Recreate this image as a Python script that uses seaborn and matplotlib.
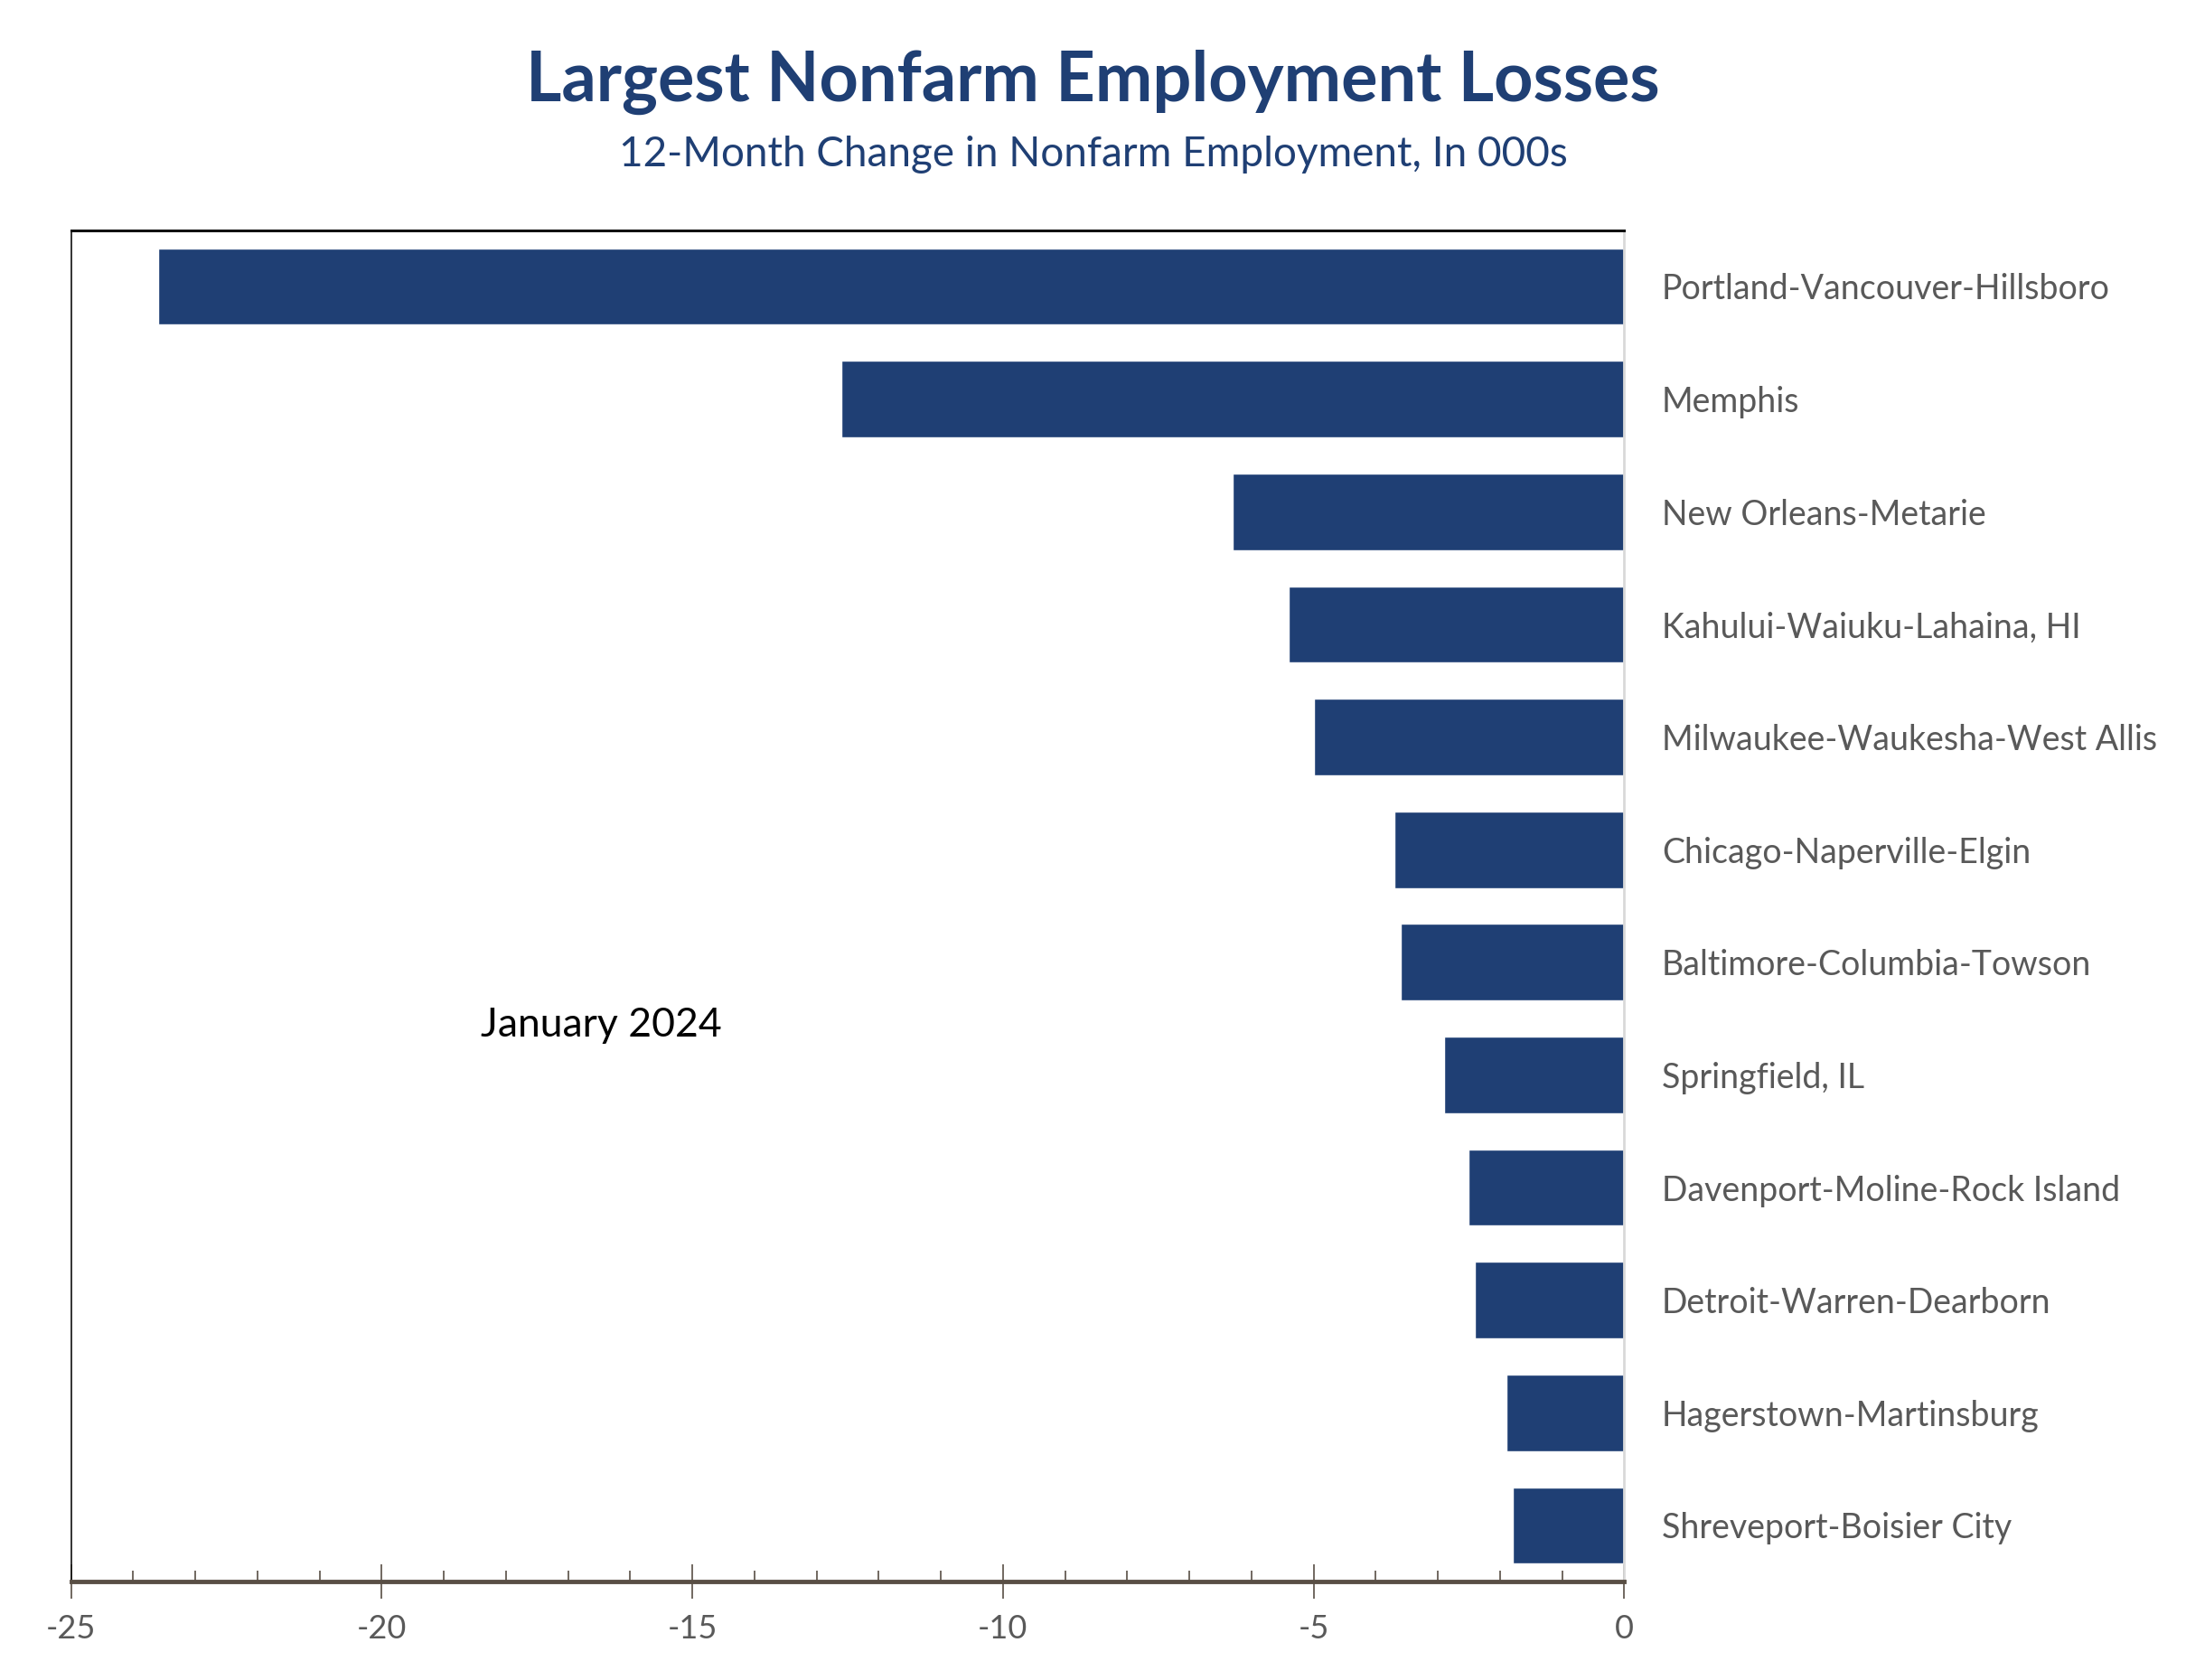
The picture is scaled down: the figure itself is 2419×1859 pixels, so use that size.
import numpy as np
import pandas as pd
import matplotlib
matplotlib.use('Agg')
import matplotlib.pyplot as plt
from matplotlib.ticker import MultipleLocator
import seaborn as sns

# data (thousands of jobs, 12-month change)
metros = ['Portland-Vancouver-Hillsboro', 'Memphis', 'New Orleans-Metarie',
          'Kahului-Waiuku-Lahaina, HI', 'Milwaukee-Waukesha-West Allis',
          'Chicago-Naperville-Elgin', 'Baltimore-Columbia-Towson', 'Springfield, IL',
          'Davenport-Moline-Rock Island', 'Detroit-Warren-Dearborn',
          'Hagerstown-Martinsburg', 'Shreveport-Boisier City']
change = [-23.6, -12.6, -6.3, -5.4, -5.0, -3.7, -3.6, -2.9, -2.5, -2.4, -1.9, -1.8]
xticks = [-25, -20, -15, -10, -5, 0]

df = pd.DataFrame({'metro': metros, 'change': change})

sns.set_style('white')
plt.rcParams['font.family'] = ['Lato', 'DejaVu Sans']
plt.rcParams['axes.unicode_minus'] = False

navy = '#1f3f74'
gray = '#595959'
axis_brown = '#594f45'

fig = plt.figure(figsize=(24.19, 18.59), dpi=100)
ax = fig.add_axes([0.0325, 0.0585, 0.7105, 0.8045])

sns.barplot(data=df, x='change', y='metro', color=navy, saturation=1,
            width=0.68, ax=ax)

ax.set_xlim(-25, 0)
ax.set_ylim(11.5, -0.5)
ax.set_xlabel('')
ax.set_ylabel('')

# labels on the right side of the zero line
ax.yaxis.tick_right()
ax.tick_params(axis='y', length=0, pad=30, labelsize=27, labelcolor=gray)

ax.set_xticks(xticks)
ax.xaxis.set_minor_locator(MultipleLocator(1))
ax.tick_params(axis='x', which='both', bottom=True)
ax.tick_params(axis='x', which='major', direction='inout', length=27, width=1.2,
               color=axis_brown, labelsize=26, labelcolor=gray, pad=12)
ax.tick_params(axis='x', which='minor', direction='in', length=9, width=1.2,
               color=axis_brown)

for side in ['left', 'top', 'right', 'bottom']:
    ax.spines[side].set_visible(True)
ax.spines['bottom'].set_color(axis_brown)
ax.spines['bottom'].set_linewidth(3.5)
ax.spines['top'].set_color('#111111')
ax.spines['top'].set_linewidth(2.2)
ax.spines['left'].set_color('#111111')
ax.spines['left'].set_linewidth(1.2)
ax.spines['right'].set_color('#d9d9d9')
ax.spines['right'].set_linewidth(2)

ax.text(-18.4, 6.56, 'January 2024', fontsize=32, color='black',
        ha='left', va='center')

fig.text(0.5, 0.951, 'Largest Nonfarm Employment Losses', ha='center', va='center',
         fontsize=54.5, fontweight='bold', color=navy)
fig.text(0.5, 0.908, '12-Month Change in Nonfarm Employment, In 000s', ha='center',
         va='center', fontsize=33, color=navy)

fig.savefig('out.png', dpi=100)
